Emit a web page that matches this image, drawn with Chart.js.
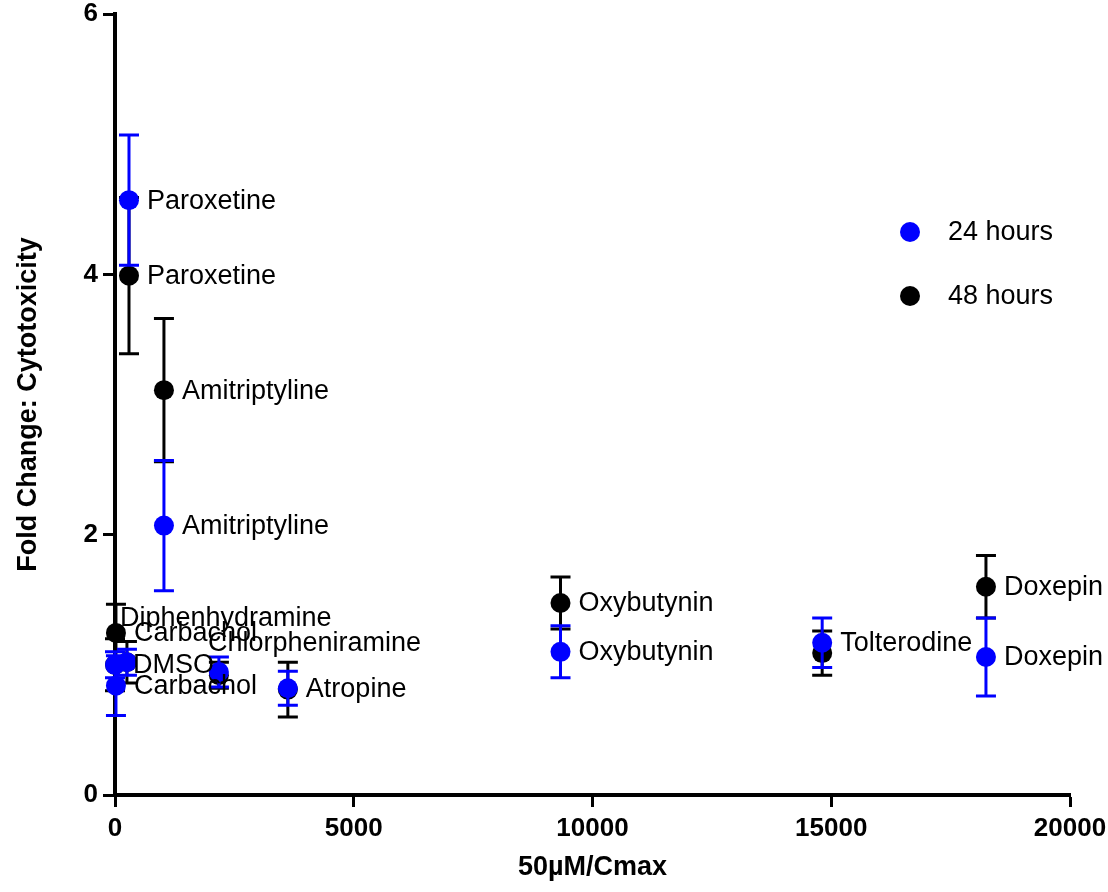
<!DOCTYPE html>
<html>
<head>
<meta charset="utf-8">
<script src="https://cdn.jsdelivr.net/npm/chart.js@4.4.1/dist/chart.umd.min.js"></script>
<style>
  html, body { margin: 0; padding: 0; background: #fff; }
  canvas { display: block; }
</style>
</head>
<body>
<canvas id="chart" width="1108" height="892"></canvas>
<script>
// data
const drugs = ['DMSO', 'Carbachol', 'Diphenhydramine', 'Paroxetine', 'Amitriptyline',
               'Chlorpheniramine', 'Atropine', 'Oxybutynin', 'Tolterodine', 'Doxepin'];
const ratio = [0, 20, 250, 293, 1025, 2176, 3620, 9330, 14810, 18240];

const fold24 = [1.00, 0.84, 1.02, 4.57, 2.07, 0.945, 0.82, 1.10, 1.17, 1.06];
const err24  = [0.10, 0.23, 0.10, 0.50, 0.50, 0.115, 0.13, 0.20, 0.19, 0.30];
const fold48 = [1.00, 1.245, 1.02, 3.99, 3.11, 0.92, 0.81, 1.475, 1.09, 1.60];
const err48  = [0.20, 0.22, 0.16, 0.60, 0.55, 0.10, 0.21, 0.20, 0.17, 0.24];

// which point carries the text label in each series
const labels24 = ['DMSO', 'Carbachol', '', 'Paroxetine', 'Amitriptyline',
                  'Chlorpheniramine', 'Atropine', 'Oxybutynin', 'Tolterodine', 'Doxepin'];
const labels48 = ['', 'Carbachol', 'Diphenhydramine', 'Paroxetine', 'Amitriptyline',
                  '', '', 'Oxybutynin', '', 'Doxepin'];

const xTicks = [0, 5000, 10000, 15000, 20000];
const yTicks = [0, 2, 4, 6];

// label nudges in px for crowded labels
const nudge = { Diphenhydramine: [-25, -45], Chlorpheniramine: [-29, -29] };

const FONT = '"Liberation Sans", Arial, Helvetica, sans-serif';

function points(ys) {
  return ratio.map((x, i) => ({ x: x, y: ys[i] }));
}

const errorBars = {
  id: 'errorBars',
  beforeDatasetDraw(chart, args) {
    const ds = chart.data.datasets[args.index];
    const yScale = chart.scales.y;
    const ctx = chart.ctx;
    ctx.save();
    ctx.strokeStyle = ds.borderColor;
    ctx.lineWidth = 3;
    args.meta.data.forEach((pt, i) => {
      const v = ds.data[i].y, e = ds.errors[i];
      const top = yScale.getPixelForValue(v + e);
      const bot = yScale.getPixelForValue(v - e);
      ctx.beginPath();
      ctx.moveTo(pt.x, top); ctx.lineTo(pt.x, bot);
      ctx.moveTo(pt.x - 10, top); ctx.lineTo(pt.x + 10, top);
      ctx.moveTo(pt.x - 10, bot); ctx.lineTo(pt.x + 10, bot);
      ctx.stroke();
    });
    ctx.restore();
  }
};

const pointLabels = {
  id: 'pointLabels',
  afterDatasetsDraw(chart) {
    const ctx = chart.ctx;
    ctx.save();
    ctx.font = '27px ' + FONT;
    ctx.fillStyle = '#000';
    ctx.textAlign = 'left';
    ctx.textBaseline = 'middle';
    chart.data.datasets.forEach((ds, di) => {
      chart.getDatasetMeta(di).data.forEach((pt, i) => {
        const txt = ds.names[i];
        if (!txt) return;
        const n = nudge[txt] || [0, 0];
        ctx.fillText(txt, pt.x + 18 + n[0], pt.y + 1 + n[1]);
      });
    });
    ctx.restore();
  }
};

const sideLegend = {
  id: 'sideLegend',
  afterDraw(chart) {
    const ctx = chart.ctx;
    ctx.save();
    ctx.font = '27px ' + FONT;
    ctx.textBaseline = 'middle';
    chart.data.datasets.forEach((ds, i) => {
      const y = 232 + i * 64;
      ctx.fillStyle = ds.backgroundColor;
      ctx.beginPath();
      ctx.arc(910, y, 10, 0, Math.PI * 2);
      ctx.fill();
      ctx.fillStyle = '#000';
      ctx.fillText(ds.label, 948, y + 1);
    });
    ctx.restore();
  }
};

new Chart(document.getElementById('chart'), {
  type: 'scatter',
  data: {
    datasets: [
      {
        label: '24 hours',
        data: points(fold24),
        errors: err24,
        names: labels24,
        backgroundColor: '#0000ff',
        borderColor: '#0000ff',
        pointRadius: 10,
        pointBorderWidth: 0,
        clip: false
      },
      {
        label: '48 hours',
        data: points(fold48),
        errors: err48,
        names: labels48,
        backgroundColor: '#000000',
        borderColor: '#000000',
        pointRadius: 10,
        pointBorderWidth: 0,
        clip: false
      }
    ]
  },
  options: {
    responsive: false,
    animation: false,
    devicePixelRatio: 1,
    layout: { padding: { top: 14, right: 38, left: 0, bottom: 0 } },
    plugins: {
      legend: { display: false },
      tooltip: { enabled: false }
    },
    scales: {
      x: {
        type: 'linear',
        min: 0,
        max: 20000,
        afterBuildTicks: s => { s.ticks = xTicks.map(v => ({ value: v })); },
        afterFit: s => { s.height = 97; s.paddingLeft = 0; s.paddingRight = 0; },
        border: { display: true, width: 4, color: '#000' },
        grid: { drawOnChartArea: false, drawTicks: true, tickLength: 12, tickWidth: 3, tickColor: '#000' },
        ticks: { color: '#000', padding: 6, callback: v => String(v),
                 font: { family: FONT, size: 26, weight: 'bold' } },
        title: { display: true, text: '50µM/Cmax', color: '#000', padding: 8,
                 font: { family: FONT, size: 27, weight: 'bold' } }
      },
      y: {
        min: 0,
        max: 6,
        afterBuildTicks: s => { s.ticks = yTicks.map(v => ({ value: v })); },
        afterFit: s => { s.width = 115; s.paddingTop = 0; s.paddingBottom = 0; },
        border: { display: true, width: 4, color: '#000' },
        grid: { drawOnChartArea: false, drawTicks: true, tickLength: 12, tickWidth: 3, tickColor: '#000' },
        ticks: { color: '#000', padding: 5, callback: v => String(v),
                 font: { family: FONT, size: 26, weight: 'bold' } },
        title: { display: true, text: 'Fold Change: Cytotoxicity', color: '#000', padding: 12,
                 font: { family: FONT, size: 27, weight: 'bold' } }
      }
    }
  },
  plugins: [errorBars, pointLabels, sideLegend]
});
</script>
</body>
</html>
